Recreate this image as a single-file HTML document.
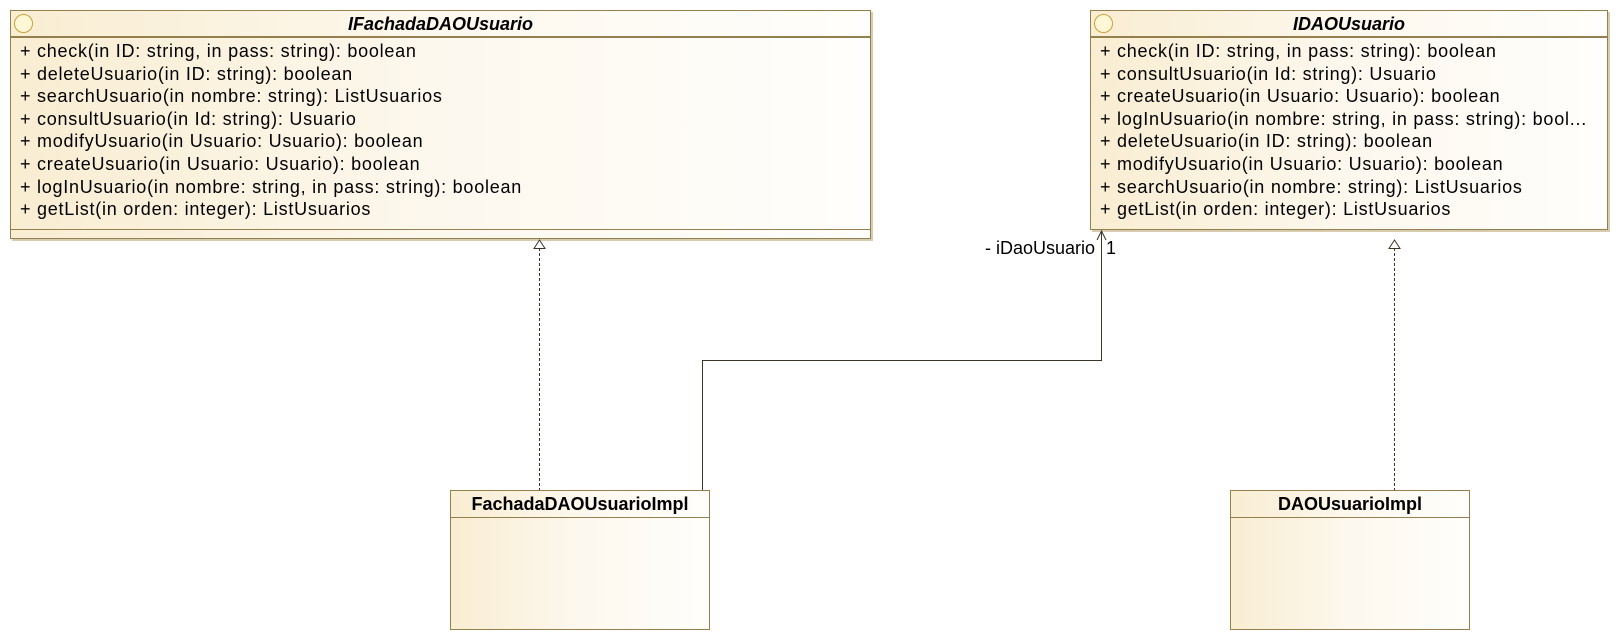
<!DOCTYPE html>
<html><head><meta charset="utf-8"><style>
html,body{margin:0;padding:0;background:#fff;}
body{width:1619px;height:640px;position:relative;overflow:hidden;font-family:"Liberation Sans",Arial,sans-serif;}
.box{position:absolute;border:1px solid #94804f;background:linear-gradient(to right,#f9edd2 0%,#fdf8ee 50%,#fffefc 100%);box-shadow:2px 2px 0 #d8ccb0;box-sizing:border-box;}
.hdr{position:absolute;left:0;right:0;top:0;border-bottom:2px solid #94804f;text-align:center;font-weight:bold;font-size:18px;color:#000;}
.ops{position:absolute;left:9px;top:29px;font-size:18px;letter-spacing:0.75px;line-height:22.6px;color:#000;white-space:nowrap;}
.circ{position:absolute;left:3px;top:3px;width:19px;height:19px;border-radius:50%;border:1px solid #c9a23a;background:#fff7d6;box-sizing:border-box;}
.lbl{position:absolute;font-size:18px;color:#000;white-space:nowrap;}
</style></head><body>

<div class="box" style="left:10px;top:10px;width:861px;height:229px;">
  <div class="hdr" style="height:25px;line-height:26px;font-style:italic;">IFachadaDAOUsuario</div>
  <div class="circ"></div>
  <div class="ops">+ check(in ID: string, in pass: string): boolean<br>+ deleteUsuario(in ID: string): boolean<br>+ searchUsuario(in nombre: string): ListUsuarios<br>+ consultUsuario(in Id: string): Usuario<br>+ modifyUsuario(in Usuario: Usuario): boolean<br>+ createUsuario(in Usuario: Usuario): boolean<br>+ logInUsuario(in nombre: string, in pass: string): boolean<br>+ getList(in orden: integer): ListUsuarios</div>
  <div style="position:absolute;left:0;right:0;top:218px;border-top:1px solid #94804f;"></div>
</div>

<div class="box" style="left:1090px;top:10px;width:518px;height:220px;overflow:hidden;">
  <div class="hdr" style="height:25px;line-height:26px;font-style:italic;">IDAOUsuario</div>
  <div class="circ"></div>
  <div class="ops">+ check(in ID: string, in pass: string): boolean<br>+ consultUsuario(in Id: string): Usuario<br>+ createUsuario(in Usuario: Usuario): boolean<br>+ logInUsuario(in nombre: string, in pass: string): bool...<br>+ deleteUsuario(in ID: string): boolean<br>+ modifyUsuario(in Usuario: Usuario): boolean<br>+ searchUsuario(in nombre: string): ListUsuarios<br>+ getList(in orden: integer): ListUsuarios</div>
</div>

<div class="box" style="left:450px;top:490px;width:260px;height:140px;box-shadow:none;">
  <div class="hdr" style="height:26px;line-height:27px;border-bottom-width:1px;">FachadaDAOUsuarioImpl</div>
</div>

<div class="box" style="left:1230px;top:490px;width:240px;height:140px;box-shadow:none;">
  <div class="hdr" style="height:26px;line-height:27px;border-bottom-width:1px;">DAOUsuarioImpl</div>
</div>

<svg width="1619" height="640" style="position:absolute;left:0;top:0;" xmlns="http://www.w3.org/2000/svg">
  <g stroke="#3d3426" stroke-width="1" fill="none">
    <line x1="539.5" y1="248" x2="539.5" y2="490" stroke-dasharray="3,2"/>
    <polygon points="539.5,240 534,248.5 545,248.5" fill="#fff"/>
    <line x1="1394.5" y1="248" x2="1394.5" y2="490" stroke-dasharray="3,2"/>
    <polygon points="1394.5,240 1389,248.5 1400,248.5" fill="#fff"/>
    <polyline points="702.5,490 702.5,360.5 1101.5,360.5 1101.5,231"/>
    <polyline points="1097,240 1101.5,231 1106,240"/>
  </g>
</svg>
<div class="lbl" style="left:985px;top:238px;">- iDaoUsuario</div>
<div class="lbl" style="left:1106px;top:238px;">1</div>
</body></html>
